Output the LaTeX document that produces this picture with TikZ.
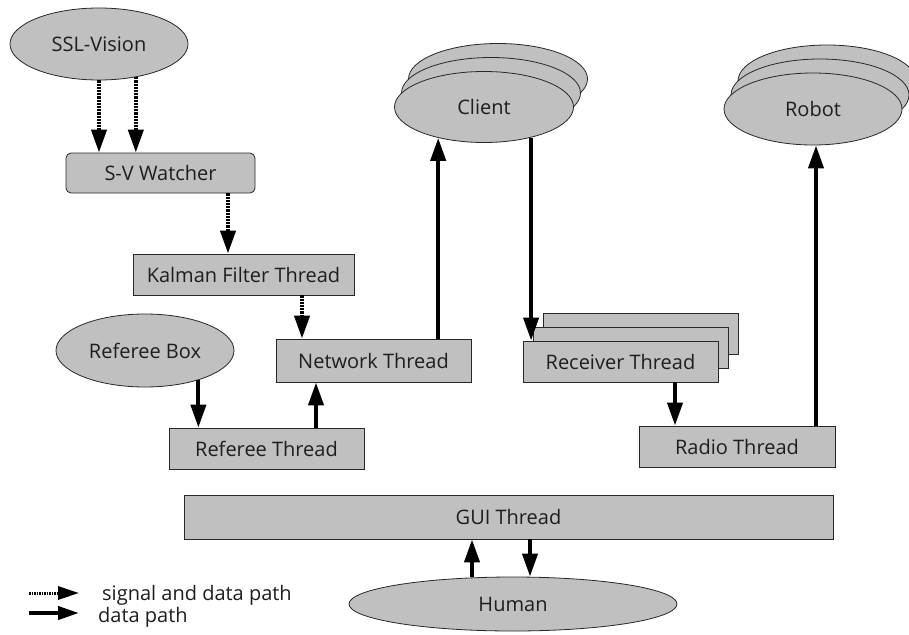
\documentclass[tikz,border=0pt]{standalone}
\usepackage{fontspec}
\setmainfont{Open Sans}
\usetikzlibrary{arrows.meta,shapes.geometric}
\definecolor{boxfill}{RGB}{192,192,192}
\definecolor{edge}{RGB}{40,40,40}
\definecolor{ink}{RGB}{30,30,30}
\begin{document}
\begin{tikzpicture}[x=1pt,y=-1pt,
  every node/.style={font=\fontsize{20}{24}\selectfont, text=ink},
  shapebase/.style={draw=edge, line width=0.8pt, fill=boxfill, inner sep=0pt},
  box/.style={shapebase, rectangle},
  oval/.style={shapebase, ellipse},
  sig/.style={line width=4pt, dash pattern=on 2.2pt off 1pt,
              -{Triangle[length=23pt,width=15pt]}},
  dat/.style={line width=4pt, -{Triangle[length=23pt,width=15pt]}},
  legsig/.style={line width=3pt, dash pattern=on 1.5pt off 1pt,
              -{Triangle[length=21pt,width=13pt]}},
  legdat/.style={line width=4pt, -{Triangle[length=21pt,width=13pt]}},
  legtext/.style={inner sep=0pt, anchor=base west},
]
\useasboundingbox (0,0) rectangle (909,634);
\clip (0,0) rectangle (909,634);

% vision input chain
\node[oval, minimum width=178pt, minimum height=72pt] (ssl) at (99,44) {SSL-Vision};
\node[box, rounded corners=5pt, minimum width=189pt, minimum height=40pt] (sv) at (160.5,173) {S-V Watcher};
\node[box, minimum width=221pt, minimum height=41pt] (kal) at (243.5,274.5) {Kalman Filter Thread};
\node[box, minimum width=195pt, minimum height=43pt] (net) at (373.5,360.5) {Network Thread};

% referee input
\node[oval, minimum width=178pt, minimum height=73pt] (refbox) at (145,350.5) {Referee Box};
\node[box, minimum width=195pt, minimum height=41pt] (refth) at (266.5,448.5) {Referee Thread};

% stacked clients
\node[oval, minimum width=179pt, minimum height=71pt] (client3) at (498,79) {};
\node[oval, minimum width=179pt, minimum height=71pt] (client2) at (491,93) {};
\node[oval, minimum width=179pt, minimum height=71pt] (client) at (484,107) {Client};

% stacked robots
\node[oval, minimum width=178pt, minimum height=72pt] (robot3) at (827,81) {};
\node[oval, minimum width=178pt, minimum height=72pt] (robot2) at (820,95) {};
\node[oval, minimum width=178pt, minimum height=72pt] (robot) at (813,109) {Robot};

% stacked receiver threads
\node[box, minimum width=195pt, minimum height=41pt] (recv3) at (641,333.5) {};
\node[box, minimum width=195pt, minimum height=41pt] (recv2) at (631,347.5) {};
\node[box, minimum width=195pt, minimum height=41pt] (recv) at (620.5,361.5) {Receiver Thread};
\node[box, minimum width=196pt, minimum height=41pt] (radio) at (737,446.5) {Radio Thread};

% user interface
\node[box, minimum width=649pt, minimum height=44pt] (gui) at (508.5,517) {GUI Thread};
\node[oval, minimum width=328pt, minimum height=54pt] (human) at (513,604) {Human};

% connector attachment points
\coordinate (svout) at ([xshift=67.5pt]sv.south);
\coordinate (netin) at ([xshift=-71.5pt]net.north);
\coordinate (refout) at ([xshift=49.5pt]refth.north);
\coordinate (recvout) at ([xshift=-62pt]radio.north);
\coordinate (radout) at ([xshift=79pt]radio.north);
\coordinate (guiin) at ([xshift=-36.5pt]gui.south);
\coordinate (guiout) at ([xshift=21.5pt]gui.south);

% signal and data paths
\draw[sig] (ssl.south) -- (ssl.south |- sv.north);
\draw[sig] (ssl.318) -- (ssl.318 |- sv.north);
\draw[sig] (svout) -- (svout |- kal.north);
\draw[sig] (netin |- kal.south) -- (netin);

% data paths
\draw[dat] (refbox.331) -- (refbox.331 |- refth.north);
\draw[dat] (refout) -- (refout |- net.south);
\draw[dat] (net.north -| client.214) -- (client.214);
\draw[dat] (client.327) -- (client.327 |- recv.north);
\draw[dat] (recvout |- recv.south) -- (recvout);
\draw[dat] (radout) -- (radout |- robot.south);
\draw[dat] (guiin |- human.north) -- (guiin);
\draw[dat] (guiout) -- (guiout |- human.north);

% legend
\coordinate (lg1a) at (29,593);
\coordinate (lg1b) at (79,593);
\coordinate (lg2a) at (29,613);
\coordinate (lg2b) at (79,613);
\draw[legsig] (lg1a) -- (lg1b);
\draw[legdat] (lg2a) -- (lg2b);
\node[legtext] (lg1t) at (102,600) {signal and data path};
\node[legtext] (lg2t) at (98,622) {data path};
\end{tikzpicture}
\end{document}
